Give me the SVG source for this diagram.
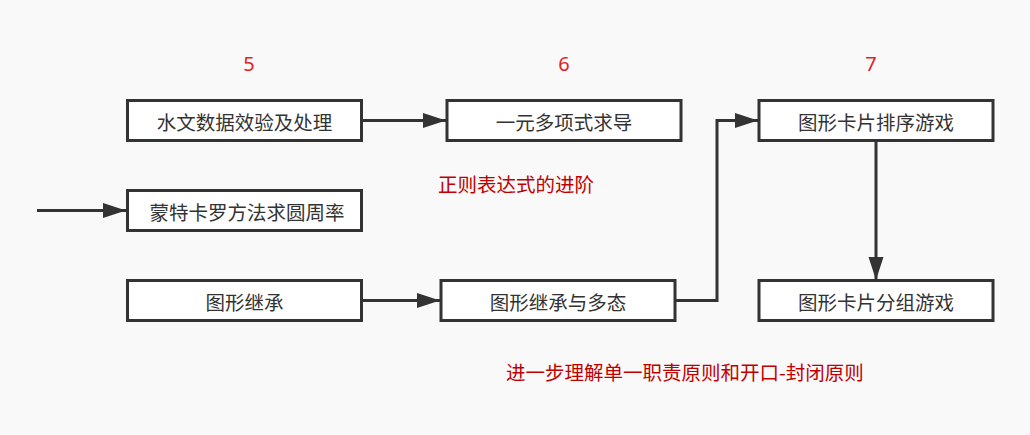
<svg xmlns="http://www.w3.org/2000/svg" width="1030" height="435" viewBox="0 0 1030 435">
  <style>
    .box { fill: #ffffff; stroke: #333333; stroke-width: 3; }
    .lbl { font-family: "Microsoft YaHei", "Noto Sans CJK SC", "Noto Sans", sans-serif; font-size: 19.5px; fill: #333333; text-anchor: middle; }
    .num { font-family: "Noto Sans", "Liberation Sans", sans-serif; font-size: 20px; fill: #e02424; text-anchor: middle; }
    .note { font-family: "Microsoft YaHei", "Noto Sans CJK SC", sans-serif; font-size: 19.5px; fill: #c00000; }
    .conn { fill: none; stroke: #333333; stroke-width: 3; }
  </style>
  <defs>
    <marker id="arrow" markerUnits="userSpaceOnUse" markerWidth="24" markerHeight="16" refX="23" refY="7.5" orient="auto">
      <path d="M0,0 L23,7.5 L0,15 Z" fill="#333333"/>
    </marker>
  </defs>
  <rect width="1030" height="435" fill="#f9f9f9"/>

  <g id="labels">
    <text class="num" x="249" y="71">5</text>
    <text class="num" x="564" y="71">6</text>
    <text class="num" x="871" y="71">7</text>
    <text class="note" x="438" y="192">正则表达式的进阶</text>
    <text class="note" x="506" y="380">进一步理解单一职责原则和开口-封闭原则</text>
  </g>

  <g id="connectors">
    <line class="conn" x1="362" y1="120.5" x2="446" y2="120.5" marker-end="url(#arrow)"/>
    <line class="conn" x1="37" y1="210.5" x2="126" y2="210.5" marker-end="url(#arrow)"/>
    <line class="conn" x1="362" y1="300.5" x2="440" y2="300.5" marker-end="url(#arrow)"/>
    <path class="conn" d="M676,300.5 H717 V120.5 H758" marker-end="url(#arrow)"/>
    <line class="conn" x1="876" y1="141" x2="876" y2="280" marker-end="url(#arrow)"/>
  </g>

  <g id="node-water">
    <rect class="box" x="127.5" y="100.5" width="234" height="40"/>
    <text class="lbl" x="244.5" y="129.5">水文数据效验及处理</text>
  </g>
  <g id="node-poly">
    <rect class="box" x="447" y="100.5" width="234" height="40"/>
    <text class="lbl" x="564" y="129.5">一元多项式求导</text>
  </g>
  <g id="node-sort">
    <rect class="box" x="759" y="100.5" width="234" height="40"/>
    <text class="lbl" x="876" y="129.5">图形卡片排序游戏</text>
  </g>
  <g id="node-monte">
    <rect class="box" x="127.5" y="190.5" width="234" height="40"/>
    <text class="lbl" x="247" y="219.5">蒙特卡罗方法求圆周率</text>
  </g>
  <g id="node-inherit">
    <rect class="box" x="127.5" y="280.5" width="234" height="40"/>
    <text class="lbl" x="244.5" y="309.5">图形继承</text>
  </g>
  <g id="node-poly-morph">
    <rect class="box" x="441" y="280.5" width="234" height="40"/>
    <text class="lbl" x="558" y="309.5">图形继承与多态</text>
  </g>
  <g id="node-group">
    <rect class="box" x="759" y="280.5" width="234" height="40"/>
    <text class="lbl" x="876" y="309.5">图形卡片分组游戏</text>
  </g>
</svg>
